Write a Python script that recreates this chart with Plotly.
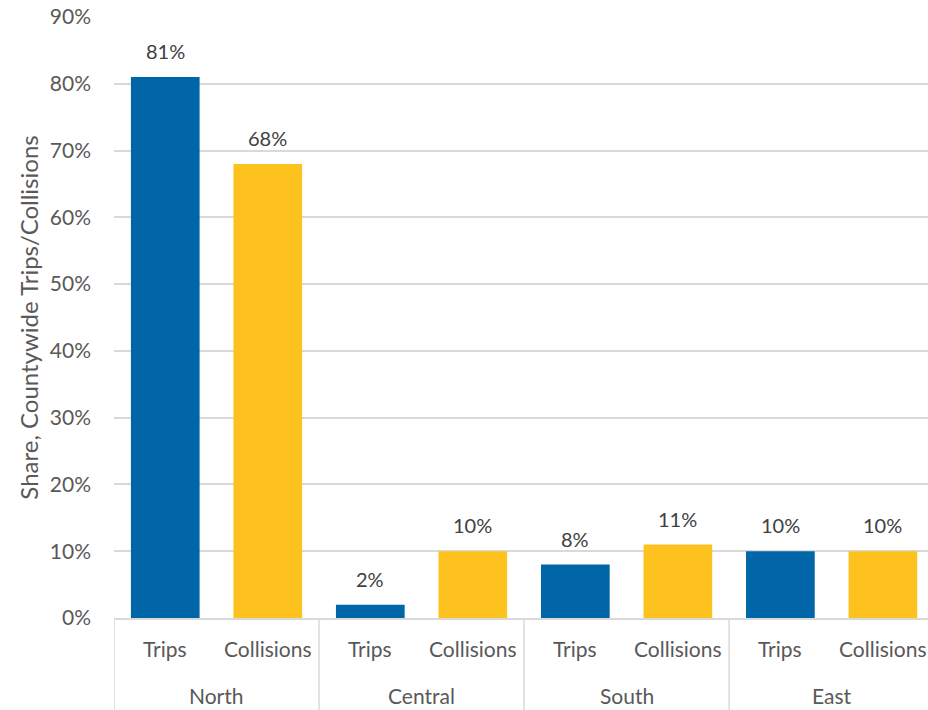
import plotly.graph_objects as go

regions = ["North", "Central", "South", "East"]
trips = [0.81, 0.02, 0.08, 0.10]
collisions = [0.68, 0.10, 0.11, 0.10]
series_names = ["Trips", "Collisions"]

palette = {"Trips": "#0066A8", "Collisions": "#FEC21E"}
font_family = "Lato, 'Open Sans', sans-serif"
text_color = "#595959"
grid_color = "#D9D9D9"

x_outer, x_inner, values, colors = [], [], [], []
for i, r in enumerate(regions):
    for s, vals in zip(series_names, [trips, collisions]):
        x_outer.append(r)
        x_inner.append(s)
        values.append(vals[i])
        colors.append(palette[s])
xpos = list(range(len(values)))
n_series = len(series_names)

W, H = 928, 710
ML, MR, MT, MB = 114, 0, 17, 92
plot_h = H - MT - MB

fig = go.Figure(
    go.Bar(
        x=xpos,
        y=values,
        marker=dict(color=colors, line=dict(width=0)),
        hoverinfo="skip",
        width=0.67,
    )
)

annotations = []
# data labels
for x, v in zip(xpos, values):
    annotations.append(dict(
        x=x, y=v, xref="x", yref="y", text=f"{v:.0%}", showarrow=False,
        yanchor="bottom", yshift=12,
        font=dict(size=20, color="#404040", family=font_family)))
# inner category labels
for x, lab in zip(xpos, x_inner):
    annotations.append(dict(
        x=x, y=0, xref="x", yref="paper", text=lab, showarrow=False,
        yanchor="middle", yshift=-30,
        font=dict(size=21, color=text_color, family=font_family)))
# outer group labels and dividers
shapes = []
for gi, r in enumerate(regions):
    center = gi * n_series + (n_series - 1) / 2
    annotations.append(dict(
        x=center, y=0, xref="x", yref="paper", text=r, showarrow=False,
        yanchor="middle", yshift=-77,
        font=dict(size=21, color=text_color, family=font_family)))
for gi in range(len(regions) + 1):
    xb = gi * n_series - 0.5
    shapes.append(dict(
        type="line", xref="x", yref="paper", x0=xb, x1=xb,
        y0=0, y1=-MB / plot_h, line=dict(color=grid_color, width=1.5)))

fig.update_layout(
    width=W,
    height=H,
    margin=dict(l=ML, r=MR, t=MT, b=MB),
    paper_bgcolor="white",
    plot_bgcolor="white",
    showlegend=False,
    annotations=annotations,
    shapes=shapes,
    font=dict(family=font_family, size=21, color=text_color),
)

fig.update_xaxes(
    range=[-0.5, 7.44],
    showline=True,
    linecolor=grid_color,
    linewidth=1.5,
    showticklabels=False,
    showgrid=False,
    zeroline=False,
    ticks="",
)

fig.update_yaxes(
    range=[0, 0.9],
    dtick=0.1,
    tickformat=".0%",
    showgrid=True,
    gridcolor=grid_color,
    gridwidth=1.5,
    zeroline=False,
    showline=False,
    ticks="",
    ticklabelstandoff=22,
    tickfont=dict(size=21, color=text_color, family=font_family),
    title=dict(text="Share, Countywide Trips/Collisions",
               font=dict(size=24, color=text_color, family=font_family),
               standoff=4),
)

fig.write_html("out.html")
